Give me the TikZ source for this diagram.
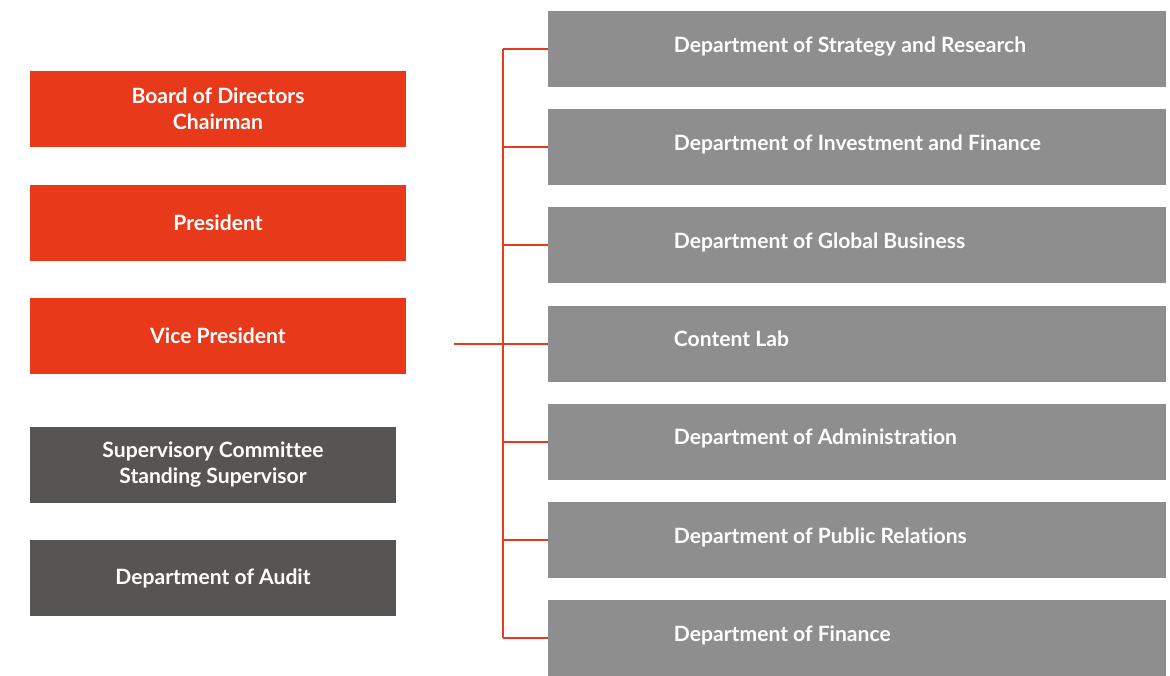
\documentclass[tikz,border=0pt]{standalone}
\usepackage{fontspec}
\setmainfont{Lato}[Ligatures={NoCommon}]
\usetikzlibrary{positioning,calc}

\definecolor{orgred}{HTML}{E8391A}
\definecolor{orgdark}{HTML}{575553}
\definecolor{orggrey}{HTML}{8E8E8E}

\begin{document}
\begin{tikzpicture}[
    x=0.25mm, y=-0.25mm,
    box/.style     = {rectangle, minimum height=19mm, inner sep=0pt, text=white,
                      font=\bfseries\fontsize{15}{18.5}\selectfont, align=center},
    board/.style   = {box, fill=orgred, minimum width=94mm},
    superv/.style  = {box, fill=orgdark, minimum width=91.5mm},
    dept/.style    = {box, fill=orggrey, minimum width=154.5mm},
    deptlbl/.style = {anchor=base west, inner sep=0pt, text=white,
                      font=\bfseries\fontsize{15}{18.5}\selectfont},
    link/.style    = {draw=orgred, line width=0.5mm},
]
\useasboundingbox (0,0) rectangle (1170,675);

% =============================== left column ==================================
\node[board]  (board) at (218,109) {Board of Directors\\Chairman};
\node[board]  (pres)  at (218,223) {President};
\node[board]  (vp)    at (218,336) {Vice President};
\node[superv] (sup)   at (213,465) {Supervisory Committee\\Standing Supervisor};
\node[superv] (audit) at (213,578) {Department of Audit};

% =============================== departments ==================================
\foreach \name [count=\i from 0] in {Department of Strategy and Research,
    Department of Investment and Finance, Department of Global Business,
    Content Lab, Department of Administration,
    Department of Public Relations, Department of Finance} {
  \node[dept] (d\i) at (857, 49 + \i*98.2) {};
  \node[deptlbl] (l\i) at ($(d\i.west)+(126,3)$) {\name};
}

% =============================== red bus ======================================
\coordinate (top) at (503,49);
\coordinate (bot) at (503,638);
\coordinate (feed) at (454,344);
\draw[link] (top) -- (bot);
\draw[link] (feed) -- (feed -| top);
\foreach \i in {0,...,6} {
  \draw[link] (d\i.west -| top) -- (d\i.west);
}

\end{tikzpicture}
\end{document}
